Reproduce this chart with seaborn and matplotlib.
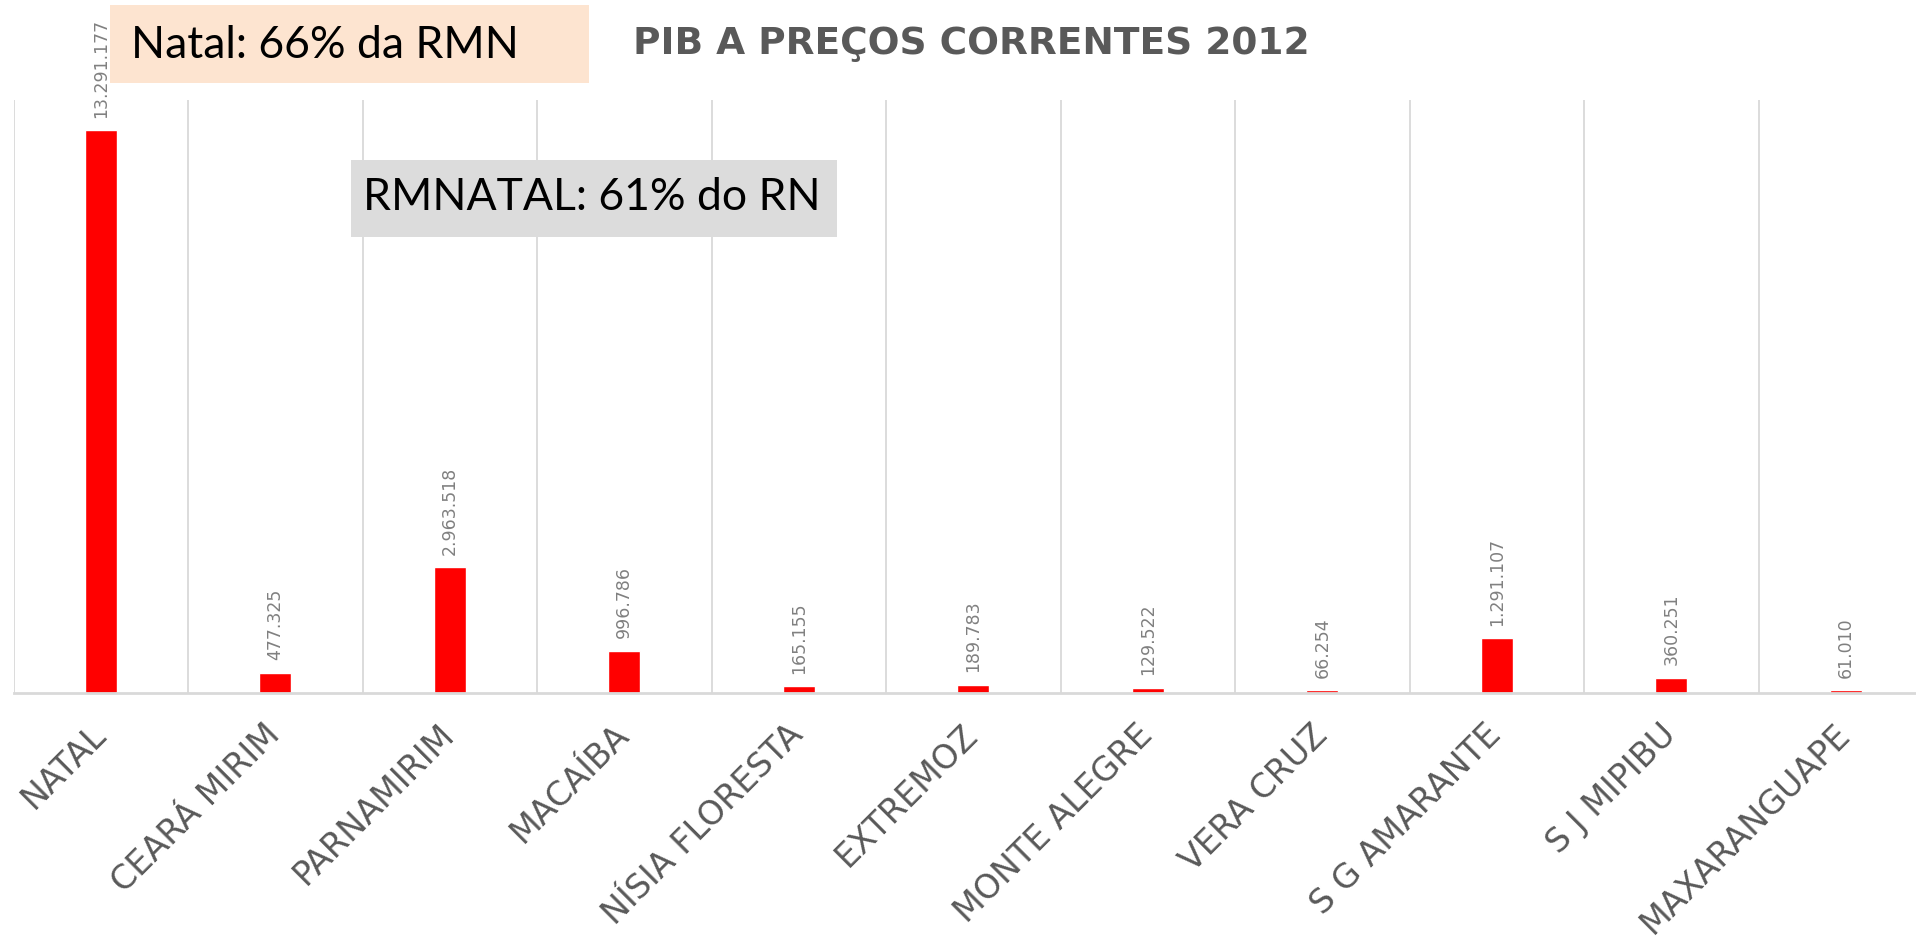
import matplotlib
matplotlib.use('Agg')
import matplotlib.pyplot as plt
import matplotlib.transforms as mtransforms
import seaborn as sns
import pandas as pd
import numpy as np
from matplotlib.patches import Rectangle

cities = ["NATAL", "CEARÁ MIRIM", "PARNAMIRIM", "MACAÍBA", "NÍSIA FLORESTA",
          "EXTREMOZ", "MONTE ALEGRE", "VERA CRUZ", "S G AMARANTE", "S J MIPIBU",
          "MAXARANGUAPE"]
pib = [13291177, 477325, 2963518, 996786, 165155, 189783, 129522, 66254,
       1291107, 360251, 61010]
title = "PIB A PREÇOS CORRENTES 2012"
note_natal = "Natal: 66% da RMN"
note_rmn = "RMNATAL: 61% do RN"

sns.set_theme(style='white')
plt.rcParams['font.family'] = ['DejaVu Sans']

W, H = 1916, 938
fig = plt.figure(figsize=(W / 100, H / 100), dpi=100)
fig.patch.set_facecolor('white')
ax = fig.add_axes([13.5 / W, 245 / H, 1919.5 / W, 593 / H])

df = pd.DataFrame({'city': cities, 'pib': pib})
sns.barplot(data=df, x='city', y='pib', color='#FF0000', saturation=1,
            width=0.183, ax=ax)
ax.set_xlim(-0.5, 10.5)
ax.set_ylim(0, 14000000)
ax.set_xlabel('')
ax.set_ylabel('')
ax.set_yticks([])

ax.set_xticks(np.arange(-0.5, 11, 1), minor=True)
ax.grid(False)
ax.grid(which='minor', axis='x', color='#D9D9D9', lw=1.3)
ax.set_axisbelow(True)
ax.tick_params(axis='x', which='both', length=0)

for s in ['top', 'left', 'right']:
    ax.spines[s].set_visible(False)
ax.spines['bottom'].set_color('#D9D9D9')
ax.spines['bottom'].set_linewidth(2)

ax.set_xticks(range(len(cities)))
ax.set_xticklabels(cities, rotation=45, ha='right', va='top',
                   rotation_mode='anchor', fontsize=24, color='#595959')
ax.tick_params(axis='x', which='major', pad=18)
shift = mtransforms.ScaledTranslation(-12 / 100, 0, fig.dpi_scale_trans)
for lab in ax.get_xticklabels():
    lab.set_transform(lab.get_transform() + shift)

labels = [f"{v:,}".replace(',', '.') for v in pib]
ax.bar_label(ax.containers[0], labels=labels, padding=9, rotation=90,
             fontsize=12.5, color='#808080')

# annotation boxes
fig.add_artist(Rectangle((110 / W, (H - 83) / H), 479 / W, 78 / H,
                         transform=fig.transFigure, facecolor='#FDE4D0',
                         edgecolor='none'))
fig.text(325 / W, (H - 46) / H, note_natal, ha='center', va='center',
         fontsize=32, color='black', family=['Lato', 'DejaVu Sans'])

fig.add_artist(Rectangle((351 / W, (H - 237) / H), 486 / W, 77 / H,
                         transform=fig.transFigure, facecolor='#DCDCDC',
                         edgecolor='none'))
fig.text(592 / W, (H - 198) / H, note_rmn, ha='center', va='center',
         fontsize=32, color='black', family=['Lato', 'DejaVu Sans'])

fig.text(971 / W, (H - 44) / H, title, ha='center', va='center',
         fontsize=27, fontweight='bold', color='#595959')

fig.savefig('out.png', dpi=100)
